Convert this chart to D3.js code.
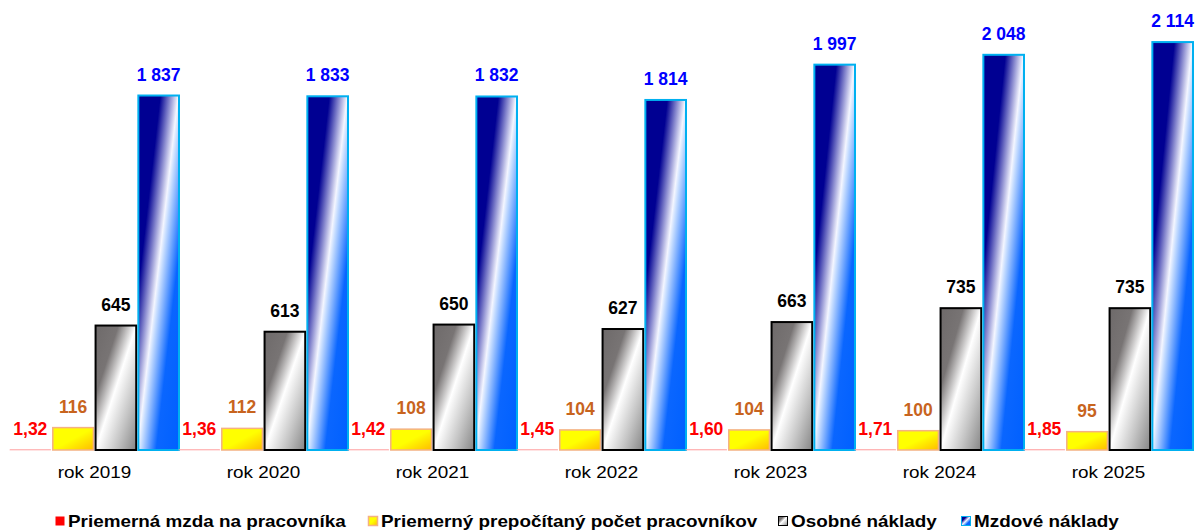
<!DOCTYPE html>
<html>
<head>
<meta charset="utf-8">
<script src="https://cdn.jsdelivr.net/npm/d3@7"></script>
<style>
  html, body { margin: 0; padding: 0; background: #fff; }
  svg { display: block; }
</style>
</head>
<body>
<svg id="chart" width="1202" height="531"></svg>
<script>
// ---- data ----
const categories = ["rok 2019", "rok 2020", "rok 2021", "rok 2022", "rok 2023", "rok 2024", "rok 2025"];
const seriesNames = ["Priemerná mzda na pracovníka", "Priemerný prepočítaný počet pracovníkov", "Osobné náklady", "Mzdové náklady"];
const avgWage = [1.32, 1.36, 1.42, 1.45, 1.60, 1.71, 1.85];
const avgStaff = [116, 112, 108, 104, 104, 100, 95];
const personnelCosts = [645, 613, 650, 627, 663, 735, 735];
const wageCosts = [1837, 1833, 1832, 1814, 1997, 2048, 2114];

const seriesValues = [avgWage, avgStaff, personnelCosts, wageCosts];

// ---- styles ----
const fills = ["#FF0000", "url(#gYellow)", "url(#gGrey)", "url(#gBlue)"];
const strokes = ["#FFB8B8", "#F4B183", "#000000", "#00B0F0"];
const strokeW = [0.8, 1.5, 2, 2];
const labelColors = ["#FF0000", "#C8641E", "#000000", "#0000FF"];

const loc = d3.formatLocale({decimal: ",", thousands: "\u00a0", grouping: [3], currency: ["", " €"]});
const fmts = [loc.format(".2f"), loc.format(",d"), loc.format(",d"), loc.format(",d")];

const svg = d3.select("#chart");
const defs = svg.append("defs");

function grad(id, stops) {
  const g = defs.append("linearGradient").attr("id", id)
    .attr("x1", 0).attr("y1", 0).attr("x2", 1).attr("y2", 1);
  stops.forEach(s => g.append("stop").attr("offset", s[0]).attr("stop-color", s[1]));
}
grad("gYellow", [[0, "#FFFF00"], [0.5, "#FFFF00"], [1, "#FFBC00"]]);
grad("gGrey", [[0, "#6E6A6A"], [0.28, "#787474"], [0.5, "#FFFFFF"], [0.75, "#C4C4C4"], [1, "#858585"]]);
grad("gBlue", [[0, "#000092"], [0.27, "#000092"], [0.49, "#F4F6FF"], [0.53, "#C8DEFF"], [0.72, "#0A66FF"], [1, "#0060FF"]]);

// ---- scales ----
const x0 = d3.scaleBand().domain(categories).range([10, 1193]).paddingInner(0).paddingOuter(0);
const x1 = d3.scaleBand().domain(d3.range(4)).range([0, x0.bandwidth()]).paddingInner(0.05).paddingOuter(0);
const y = d3.scaleLinear().domain([0, 2332]).range([450, 0]);

// ---- bars ----
const groups = svg.append("g").selectAll("g").data(categories).join("g")
  .attr("transform", d => `translate(${x0(d)},0)`);

groups.each(function(cat, ci) {
  const g = d3.select(this);
  const data = seriesValues.map((arr, si) => ({si, v: arr[ci]}));
  g.selectAll("rect").data(data).join("rect")
    .attr("x", d => x1(d.si))
    .attr("y", d => y(d.v))
    .attr("width", x1.bandwidth())
    .attr("height", d => y(0) - y(d.v))
    .attr("fill", d => fills[d.si])
    .attr("stroke", d => strokes[d.si])
    .attr("stroke-width", d => strokeW[d.si]);
  g.selectAll("text.val").data(data).join("text")
    .attr("class", "val")
    .attr("x", d => x1(d.si) + x1.bandwidth() / 2)
    .attr("y", d => y(d.v) - 15)
    .attr("text-anchor", "middle")
    .attr("font-family", "Liberation Sans, Arial, sans-serif")
    .attr("font-weight", "bold")
    .attr("font-size", 17.5)
    .attr("fill", d => labelColors[d.si])
    .text(d => fmts[d.si](d.v));
});

// ---- x axis labels ----
const xa = svg.append("g").attr("transform", "translate(0,478)");
xa.selectAll("text").data(categories).join("text")
  .attr("transform", d => `translate(${x0(d) + x0.bandwidth() / 2},0) scale(1.18,1)`)
  .attr("text-anchor", "middle")
  .attr("font-family", "Liberation Sans, Arial, sans-serif")
  .attr("font-size", 16)
  .attr("fill", "#000")
  .text(d => d);

// ---- legend ----
const legendX = [55, 368, 778, 961];
const leg = svg.append("g").attr("transform", "translate(0,527)");
const li = leg.selectAll("g").data(seriesNames).join("g")
  .attr("transform", (d, i) => `translate(${legendX[i]},0)`);
li.append("rect")
  .attr("x", 0.5).attr("y", -10.5).attr("width", 9).attr("height", 9)
  .attr("fill", (d, i) => fills[i])
  .attr("stroke", (d, i) => i === 0 ? "none" : (i === 1 ? "#F4B183" : i === 2 ? "#000" : "#00B0F0"))
  .attr("stroke-width", (d, i) => i === 1 ? 1.5 : 1);
li.append("text")
  .attr("transform", "translate(13,0) scale(1.18,1)")
  .attr("font-family", "Liberation Sans, Arial, sans-serif")
  .attr("font-weight", "bold")
  .attr("font-size", 16)
  .attr("fill", "#000")
  .text(d => d);
</script>
</body>
</html>
